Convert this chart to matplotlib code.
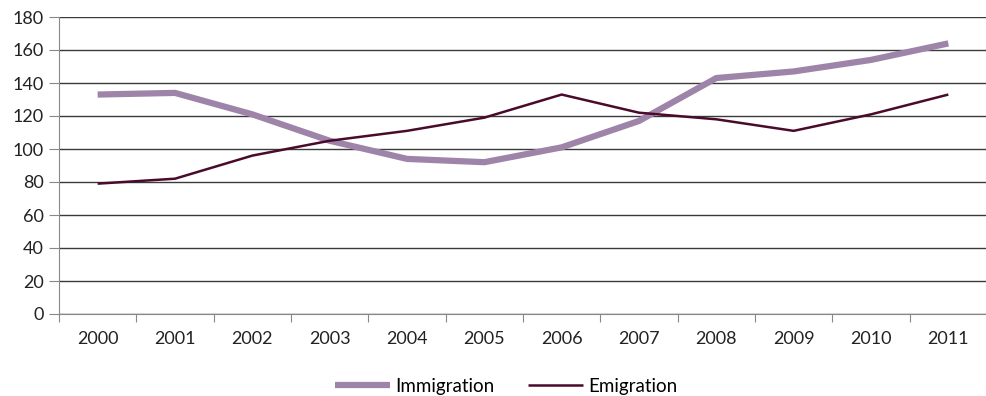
import numpy as np
from matplotlib import pyplot as plt

years = ['2000', '2001', '2002', '2003', '2004', '2005', '2006', '2007', '2008', '2009', '2010', '2011']
immigration = [133, 134, 121, 105, 94, 92, 101, 117, 143, 147, 154, 164]
emigration = [79, 82, 96, 105, 111, 119, 133, 122, 118, 111, 121, 133]

plt.rcParams['font.family'] = ['Lato', 'DejaVu Sans']

fig = plt.figure(figsize=(9.87, 3.96), dpi=100)
ax = fig.add_axes([59 / 987, 82 / 396, 928 / 987, 297 / 396])

x = np.arange(len(years))
ax.plot(x, immigration, color='#9f84a9', lw=4.5, solid_capstyle='butt', label='Immigration', zorder=3)
ax.plot(x, emigration, color='#4a0a2c', lw=1.8, solid_capstyle='butt', label='Emigration', zorder=3)

ax.set_xlim(-0.5, len(years) - 0.5)
ax.set_ylim(0, 180)
ax.set_yticks(range(0, 181, 20))
ax.yaxis.grid(True, color='#3a3a3a', lw=1)
ax.set_axisbelow(True)

# category labels in the middle, ticks between categories
ax.set_xticks(np.arange(-0.5, len(years)), minor=False)
ax.set_xticklabels([])
ax.set_xticks(x, minor=True)
ax.set_xticklabels(years, minor=True)
ax.tick_params(axis='x', which='minor', length=0, pad=12, labelsize=13, colors='#222222')
ax.tick_params(axis='x', which='major', length=6, color='#888888')
ax.tick_params(axis='y', length=7, color='#888888', labelsize=13, labelcolor='#222222', pad=4)

for s in ['top', 'right']:
    ax.spines[s].set_visible(False)
ax.spines['left'].set_color('#888888')
ax.spines['bottom'].set_color('#888888')

fig.legend(loc='lower center', bbox_to_anchor=(0.513, -0.04), ncol=2, frameon=False,
           fontsize=13.5, handlelength=2.9, columnspacing=1.8, handletextpad=0.3)

plt.savefig('out.png', dpi=100)
